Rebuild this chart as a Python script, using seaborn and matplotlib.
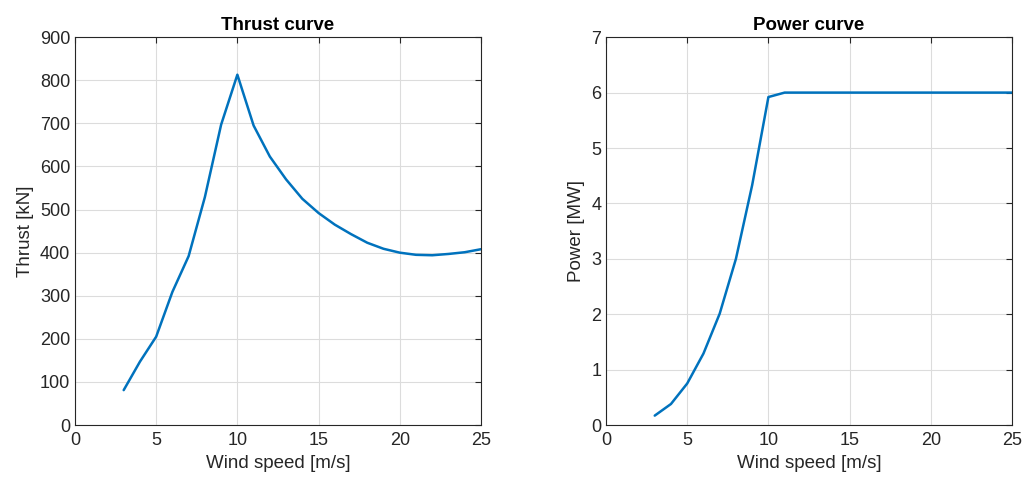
import pandas as pd
import matplotlib
matplotlib.use("Agg")
import matplotlib.pyplot as plt
import seaborn as sns

# Data
wind_speed = list(range(3, 26))
thrust_kn = [81, 147, 205, 309, 392, 529, 697, 813, 695, 623, 570, 525, 492,
             465, 443, 423, 409, 400, 395, 394, 397, 401, 408]
power_mw = [0.17, 0.38, 0.75, 1.29, 2.01, 3.0, 4.33, 5.92, 6.0, 6.0, 6.0, 6.0,
            6.0, 6.0, 6.0, 6.0, 6.0, 6.0, 6.0, 6.0, 6.0, 6.0, 6.0]

df = pd.DataFrame({"ws": wind_speed, "thrust": thrust_kn, "power": power_mw})

sns.set_style("white")
plt.rcParams["font.family"] = ["Liberation Sans", "DejaVu Sans"]
plt.rcParams["xtick.direction"] = "in"
plt.rcParams["ytick.direction"] = "in"

axis_col = "#262626"
line_col = "#0072BD"

fig = plt.figure(figsize=(10.24, 4.83), dpi=100)
ax1 = fig.add_axes([0.0732, 0.120, 0.3965, 0.803])
ax2 = fig.add_axes([0.5918, 0.120, 0.3965, 0.803])

sns.lineplot(data=df, x="ws", y="thrust", ax=ax1, color=line_col, linewidth=1.8)
sns.lineplot(data=df, x="ws", y="power", ax=ax2, color=line_col, linewidth=1.8)

settings = [
    (ax1, "Thrust curve", "Thrust [kN]", (0, 900), range(0, 901, 100)),
    (ax2, "Power curve", "Power [MW]", (0, 7), range(0, 8)),
]
for ax, title, ylabel, ylim, yticks in settings:
    ax.set_xlim(0, 25)
    ax.set_ylim(*ylim)
    ax.set_xticks(range(0, 26, 5))
    ax.set_yticks(list(yticks))
    ax.set_title(title, fontsize=13.5, fontweight="bold", color="black", pad=5)
    ax.set_xlabel("Wind speed [m/s]", fontsize=13.5, color=axis_col, labelpad=4)
    ax.set_ylabel(ylabel, fontsize=13.5, color=axis_col, labelpad=4)
    ax.grid(True, color="#dcdcdc", linewidth=0.8)
    ax.tick_params(axis="both", labelsize=13, colors=axis_col, length=4,
                   top=True, right=True, width=0.8)
    ax.tick_params(axis="x", pad=5)
    for sp in ax.spines.values():
        sp.set_color(axis_col)
        sp.set_linewidth(0.8)

fig.savefig("out.png", dpi=100, facecolor="white")
